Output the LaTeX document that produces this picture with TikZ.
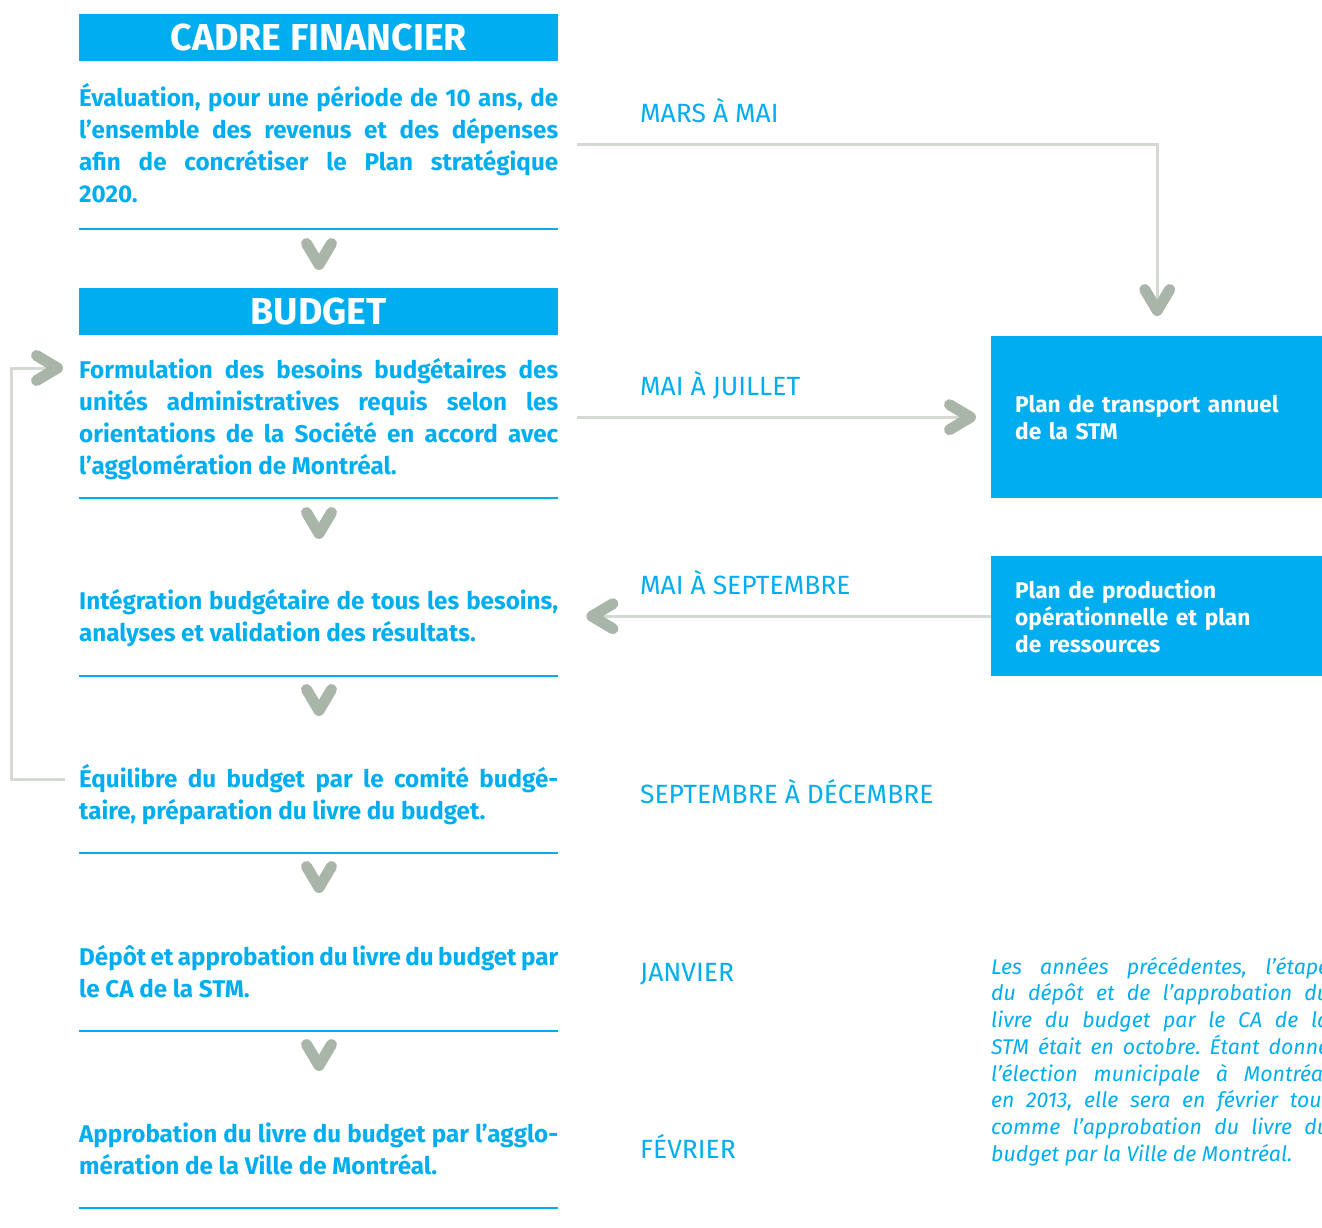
\documentclass[tikz,border=0pt]{standalone}
\usepackage{fontspec}
\setmainfont{Fira Sans}
\usetikzlibrary{calc}

\definecolor{stmblue}{HTML}{00AEEF}
\definecolor{chevgray}{HTML}{AAB5AA}
\definecolor{linegray}{HTML}{D4D9D4}

% one justified line, one natural line
\newcommand\jl[1]{\hbox to \hsize{#1}}
\newcommand\nl[1]{\hbox{#1}}

\tikzset{
  head/.style={fill=stmblue, text=white, inner sep=0pt, anchor=north west,
    minimum width=479pt, minimum height=47pt,
    font=\fontsize{37.5}{40}\selectfont\bfseries},
  bodytext/.style={anchor=base west, inner sep=0pt, text=stmblue,
    font=\fontsize{24.2}{32}\selectfont\bfseries\frenchspacing},
  month/.style={anchor=base west, inner sep=0pt, text=stmblue,
    font=\fontsize{26.4}{30}\selectfont},
  planbox/.style={fill=stmblue, text=white, anchor=north west, inner xsep=24pt,
    inner ysep=0pt, minimum width=332pt, text width=284pt, align=left,
    font=\fontsize{22.7}{27}\selectfont\bfseries},
  notetext/.style={anchor=base west, inner sep=0pt, text=stmblue,
    font=\fontsize{21.3}{26.75}\selectfont\itshape\frenchspacing},
  rulestyle/.style={draw=stmblue, line width=2pt},
  conn/.style={draw=linegray, line width=3pt},
  chevstyle/.style={draw=chevgray, line width=11pt, line cap=round, line join=round},
  chev/.pic={\draw[chevstyle] (-12.5,10.5) -- (0,-10.5) -- (12.5,10.5);}
}

\begin{document}
\begin{tikzpicture}[x=1pt, y=1pt]
\useasboundingbox (0,0) rectangle (1322,-1228);
\begin{scope}
\clip (0,0) rectangle (1322,-1228);

% ---- left column: headers and steps
\node[head] (h1) at (79,-14) {CADRE FINANCIER};
\node[bodytext] (t1) at (79,-107) {\vtop{\hsize=479pt
  \jl{Évaluation, pour une période de 10 ans, de}
  \jl{l’ensemble des revenus et des dépenses}
  \jl{afin de concrétiser le Plan stratégique}
  \nl{2020.}}};
\draw[rulestyle] (79,-229) -- (558,-229);
\pic at (319,-254) {chev};

\node[head] (h2) at (79,-288) {BUDGET};
\node[bodytext] (t2) at (79,-378) {\vtop{\hsize=479pt
  \jl{Formulation des besoins budgétaires des}
  \jl{unités administratives requis selon les}
  \jl{orientations de la Société en accord avec}
  \nl{l’agglomération de Montréal.}}};
\draw[rulestyle] (79,-498) -- (558,-498);
\pic at (319,-523) {chev};

\node[bodytext] (t3) at (79,-609) {\vtop{\hsize=479pt
  \jl{Intégration budgétaire de tous les besoins,}
  \nl{analyses et validation des résultats.}}};
\draw[rulestyle] (79,-676) -- (558,-676);
\pic at (319,-700) {chev};

\node[bodytext] (t4) at (79,-787) {\vtop{\hsize=479pt
  \jl{Équilibre du budget par le comité budgé-}
  \nl{taire, préparation du livre du budget.}}};
\draw[rulestyle] (79,-853) -- (558,-853);
\pic at (319,-877) {chev};

\node[bodytext] (t5) at (79,-965) {\vtop{\hsize=479pt
  \jl{Dépôt et approbation du livre du budget par}
  \nl{le CA de la STM.}}};
\draw[rulestyle] (79,-1031) -- (558,-1031);
\pic at (319,-1055) {chev};

\node[bodytext] (t6) at (79,-1142) {\vtop{\hsize=479pt
  \jl{Approbation du livre du budget par l’agglo-}
  \nl{mération de la Ville de Montréal.}}};
\draw[rulestyle] (79,-1208) -- (558,-1208);

% ---- periods
\node[month] (m1) at (640,-123) {MARS À MAI};
\node[month] (m2) at (640,-395) {MAI À JUILLET};
\node[month] (m3) at (640,-594) {MAI À SEPTEMBRE};
\node[month] (m4) at (640,-803) {SEPTEMBRE À DÉCEMBRE};
\node[month] (m5) at (640,-981) {JANVIER};
\node[month] (m6) at (640,-1158) {FÉVRIER};

% ---- right column
\node[planbox, minimum height=162pt] (p1) at (991,-336)
  {Plan de transport annuel\\de la STM};
\node[planbox, minimum height=120pt] (p2) at (991,-556)
  {Plan de production\\opérationnelle et plan\\de ressources};

\node[notetext] (note) at (991,-974) {\vtop{\hsize=338pt
  \jl{Les années précédentes, l’étape}
  \jl{du dépôt et de l’approbation du}
  \jl{livre du budget par le CA de la}
  \jl{STM était en octobre. Étant donné}
  \jl{l’élection municipale à Montréal}
  \jl{en 2013, elle sera en février tout}
  \jl{comme l’approbation du livre du}
  \nl{budget par la Ville de Montréal.}}};

% ---- connectors
\draw[conn] ([shift={(498pt,-38pt)}]t1.base west) -| ([yshift=25.5pt]p1.north);
\pic at ([yshift=36pt]p1.north) {chev};

\coordinate (a2) at ([xshift=19pt]t2.east |- p1.west);
\draw[conn] (a2) -- ([xshift=-20.5pt]p1.west);
\pic[rotate=90] at ([xshift=-31pt]p1.west) {chev};

\draw[conn] (p2.west) -- ([xshift=33.5pt]t3.east |- p2.west);
\pic[rotate=-90] at ([xshift=44pt]t3.east |- p2.west) {chev};

\coordinate (fbA) at ([shift={(-14pt,8pt)}]t4.base west);
\coordinate (fbB) at ([shift={(-21.5pt,10pt)}]t2.base west);
\draw[conn] (fbA) -- ++(-54,0) |- (fbB);
\pic[rotate=90] at ([shift={(-32pt,10pt)}]t2.base west) {chev};
\end{scope}
\end{tikzpicture}
\end{document}
